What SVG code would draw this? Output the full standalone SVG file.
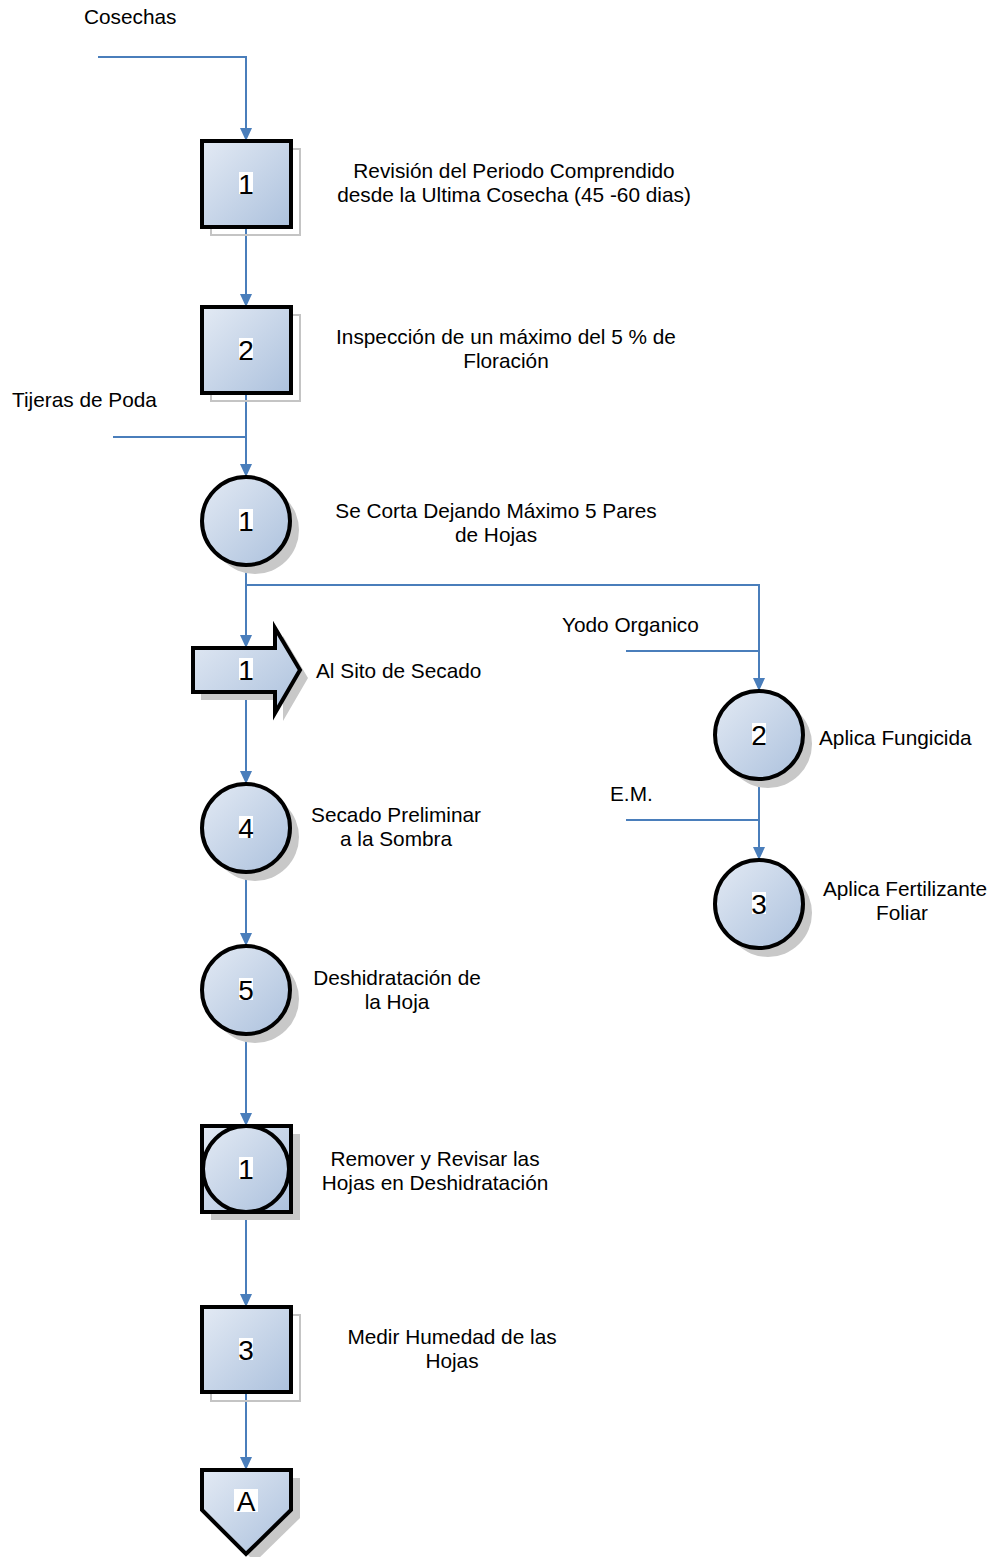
<svg xmlns="http://www.w3.org/2000/svg" width="994" height="1557" viewBox="0 0 994 1557">
  <defs>
    <linearGradient id="fillGrad" x1="0" y1="0" x2="1" y2="1">
      <stop offset="0" stop-color="#e3eaf4"/>
      <stop offset="1" stop-color="#acc1dd"/>
    </linearGradient>
    <marker id="arrow" viewBox="0 0 13 12" refX="13" refY="6" markerWidth="13" markerHeight="12" markerUnits="userSpaceOnUse" orient="auto">
      <path d="M0,0 L13,6 L0,12 Z" fill="#4a7ebb"/>
    </marker>
  </defs>
  <style>
    .shape { fill: url(#fillGrad); stroke: #000; stroke-width: 4; }
    .shadowLine { fill: none; stroke: #c4c4c4; stroke-width: 2; }
    .shadowFill { fill: #c8c8c8; }
    .num { font-family: "Liberation Sans", Arial, sans-serif; font-size: 28px; text-anchor: middle; fill: #000; }
    .numBg { fill: #fff; }
    .lbl { font-family: "Liberation Sans", Arial, sans-serif; font-size: 20.8px; fill: #000; }
    .mid { text-anchor: middle; }
    .conn { fill: none; stroke: #4a7ebb; stroke-width: 2; }
  </style>
  <rect width="994" height="1557" fill="#fff"/>

  <!-- connectors -->
  <g id="connectors">
    <polyline class="conn" points="98,57 246,57 246,141" marker-end="url(#arrow)"/>
    <line class="conn" x1="246" y1="227" x2="246" y2="307" marker-end="url(#arrow)"/>
    <line class="conn" x1="246" y1="392" x2="246" y2="477" marker-end="url(#arrow)"/>
    <line class="conn" x1="113" y1="437" x2="246" y2="437"/>
    <line class="conn" x1="246" y1="563" x2="246" y2="648" marker-end="url(#arrow)"/>
    <polyline class="conn" points="246,585 759,585 759,691" marker-end="url(#arrow)"/>
    <line class="conn" x1="626" y1="651" x2="759" y2="651"/>
    <line class="conn" x1="759" y1="779" x2="759" y2="860" marker-end="url(#arrow)"/>
    <line class="conn" x1="626" y1="820" x2="759" y2="820"/>
    <line class="conn" x1="246" y1="692" x2="246" y2="784" marker-end="url(#arrow)"/>
    <line class="conn" x1="246" y1="872" x2="246" y2="946" marker-end="url(#arrow)"/>
    <line class="conn" x1="246" y1="1034" x2="246" y2="1126" marker-end="url(#arrow)"/>
    <line class="conn" x1="246" y1="1212" x2="246" y2="1307" marker-end="url(#arrow)"/>
    <line class="conn" x1="246" y1="1392" x2="246" y2="1470" marker-end="url(#arrow)"/>
  </g>

  <!-- free labels -->
  <g id="inputs">
    <text class="lbl" x="84" y="24">Cosechas</text>
    <text class="lbl" x="12" y="407">Tijeras de Poda</text>
    <text class="lbl" x="562" y="632">Yodo Organico</text>
    <text class="lbl" x="610" y="801">E.M.</text>
  </g>

  <g id="op1">
    <rect class="shadowLine" x="211" y="149" width="89" height="86"/>
    <rect class="shape" x="202" y="141" width="89" height="86"/>
    <rect class="numBg" x="239" y="172" width="14" height="22"/>
    <text class="num" x="246" y="194">1</text>
    <text class="lbl mid" x="514" y="178">Revisión del Periodo Comprendido</text>
    <text class="lbl mid" x="514" y="202">desde la Ultima Cosecha (45 -60 dias)</text>
  </g>

  <g id="op2">
    <rect class="shadowLine" x="211" y="315" width="89" height="86"/>
    <rect class="shape" x="202" y="307" width="89" height="86"/>
    <rect class="numBg" x="239" y="338" width="14" height="22"/>
    <text class="num" x="246" y="360">2</text>
    <text class="lbl mid" x="506" y="344">Inspección de un máximo del 5 % de</text>
    <text class="lbl mid" x="506" y="368">Floración</text>
  </g>

  <g id="cut1">
    <circle class="shadowFill" cx="255" cy="530" r="44"/>
    <circle class="shape" cx="246" cy="521" r="44"/>
    <rect class="numBg" x="239" y="509" width="14" height="22"/>
    <text class="num" x="246" y="531">1</text>
    <text class="lbl mid" x="496" y="518">Se Corta Dejando Máximo 5 Pares</text>
    <text class="lbl mid" x="496" y="542">de Hojas</text>
  </g>

  <g id="move1">
    <path class="shadowFill" d="M201,656 L283,656 L283,636 L308,678 L283,721 L283,700 L201,700 Z"/>
    <path class="shape" d="M193,648 L275,648 L275,628 L300,670 L275,713 L275,692 L193,692 Z"/>
    <rect class="numBg" x="239" y="658" width="14" height="22"/>
    <text class="num" x="246" y="680">1</text>
    <text class="lbl" x="316" y="678">Al Sito de Secado</text>
  </g>

  <g id="fungicide2">
    <circle class="shadowFill" cx="768" cy="744" r="44"/>
    <circle class="shape" cx="759" cy="735" r="44"/>
    <rect class="numBg" x="752" y="723" width="14" height="22"/>
    <text class="num" x="759" y="745">2</text>
    <text class="lbl" x="819" y="745">Aplica Fungicida</text>
  </g>

  <g id="fertilizer3">
    <circle class="shadowFill" cx="768" cy="913" r="44"/>
    <circle class="shape" cx="759" cy="904" r="44"/>
    <rect class="numBg" x="752" y="892" width="14" height="22"/>
    <text class="num" x="759" y="914">3</text>
    <text class="lbl mid" x="905" y="896">Aplica Fertilizante</text>
    <text class="lbl mid" x="902" y="920">Foliar</text>
  </g>

  <g id="dry4">
    <circle class="shadowFill" cx="255" cy="837" r="44"/>
    <circle class="shape" cx="246" cy="828" r="44"/>
    <rect class="numBg" x="239" y="816" width="14" height="22"/>
    <text class="num" x="246" y="838">4</text>
    <text class="lbl mid" x="396" y="822">Secado Preliminar</text>
    <text class="lbl mid" x="396" y="846">a la Sombra</text>
  </g>

  <g id="dehydrate5">
    <circle class="shadowFill" cx="255" cy="999" r="44"/>
    <circle class="shape" cx="246" cy="990" r="44"/>
    <rect class="numBg" x="239" y="978" width="14" height="22"/>
    <text class="num" x="246" y="1000">5</text>
    <text class="lbl mid" x="397" y="985">Deshidratación de</text>
    <text class="lbl mid" x="397" y="1009">la Hoja</text>
  </g>

  <g id="combined1">
    <rect class="shadowFill" x="211" y="1134" width="89" height="86"/>
    <rect class="shape" x="202" y="1126" width="89" height="86"/>
    <circle class="shape" cx="246" cy="1169" r="43"/>
    <rect class="numBg" x="239" y="1157" width="14" height="22"/>
    <text class="num" x="246" y="1179">1</text>
    <text class="lbl mid" x="435" y="1166">Remover y Revisar las</text>
    <text class="lbl mid" x="435" y="1190">Hojas en Deshidratación</text>
  </g>

  <g id="op3">
    <rect class="shadowLine" x="211" y="1315" width="89" height="86"/>
    <rect class="shape" x="202" y="1307" width="89" height="85"/>
    <rect class="numBg" x="239" y="1338" width="14" height="22"/>
    <text class="num" x="246" y="1360">3</text>
    <text class="lbl mid" x="452" y="1344">Medir Humedad de las</text>
    <text class="lbl mid" x="452" y="1368">Hojas</text>
  </g>

  <g id="connectorA">
    <path class="shadowFill" d="M211,1478 L300,1478 L300,1518 L255,1562 L211,1518 Z"/>
    <path class="shape" d="M202,1470 L291,1470 L291,1510 L246,1554 L202,1510 Z"/>
    <rect class="numBg" x="234" y="1489" width="24" height="23"/>
    <text class="num" x="246" y="1511">A</text>
  </g>
</svg>
